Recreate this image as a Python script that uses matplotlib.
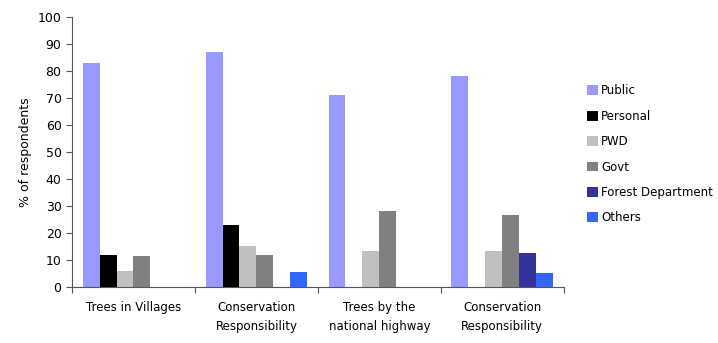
import numpy as np
import matplotlib.pyplot as plt
from matplotlib.patches import Patch

categories = ['Trees in Villages', 'Conservation\nResponsibility',
              'Trees by the\nnational highway', 'Conservation\nResponsibility']
series = ['Public', 'Personal', 'PWD', 'Govt', 'Forest Department', 'Others']
public = [83, 87, 71, 78]
personal = [12, 23, 0, 0]
pwd = [6, 15, 13.5, 13.5]
govt = [11.5, 12, 28, 26.5]
forest = [0, 0, 0, 12.5]
others = [0, 5.5, 0, 5]
colors = ['#9999ff', '#000000', '#c0c0c0', '#808080', '#333399', '#3366ff']

values = [public, personal, pwd, govt, forest, others]

fig = plt.figure(figsize=(7.18, 3.43), dpi=100)
ax = fig.add_axes([0.1003, 0.1633, 0.685, 0.787])

x = np.arange(len(categories))
width = 0.138
for i, (vals, col) in enumerate(zip(values, colors)):
    ax.bar(x + (i - 2.5) * width, vals, width, color=col)

ax.set_xlim(-0.5, len(categories) - 0.5)
ax.set_ylim(0, 100)
ax.set_yticks(range(0, 101, 10))
ax.tick_params(axis='y', labelsize=9, length=4, direction='out', color='#555555')

# boundary ticks between groups, labels centred under each group
ax.set_xticks(np.arange(-0.5, len(categories)), labels=[''] * (len(categories) + 1))
ax.set_xticks(x, labels=categories, minor=True)
ax.tick_params(axis='x', which='major', length=4, direction='out', color='#555555')
ax.tick_params(axis='x', which='minor', length=0, pad=10, labelsize=8.5)
for lbl in ax.get_xticklabels(minor=True):
    lbl.set_linespacing(1.6)
for spine in ['top', 'right']:
    ax.spines[spine].set_visible(False)
for spine in ['left', 'bottom']:
    ax.spines[spine].set_color('#555555')

ax.set_ylabel('% of respondents', fontsize=9)

handles = [Patch(facecolor=c, label=s) for c, s in zip(colors, series)]
fig.legend(handles=handles, loc='upper left', bbox_to_anchor=(0.803, 0.785),
           frameon=False, fontsize=8.5, handlelength=0.9, handleheight=0.9,
           handletextpad=0.3, labelspacing=1.05)

fig.savefig('out.png', dpi=100)
